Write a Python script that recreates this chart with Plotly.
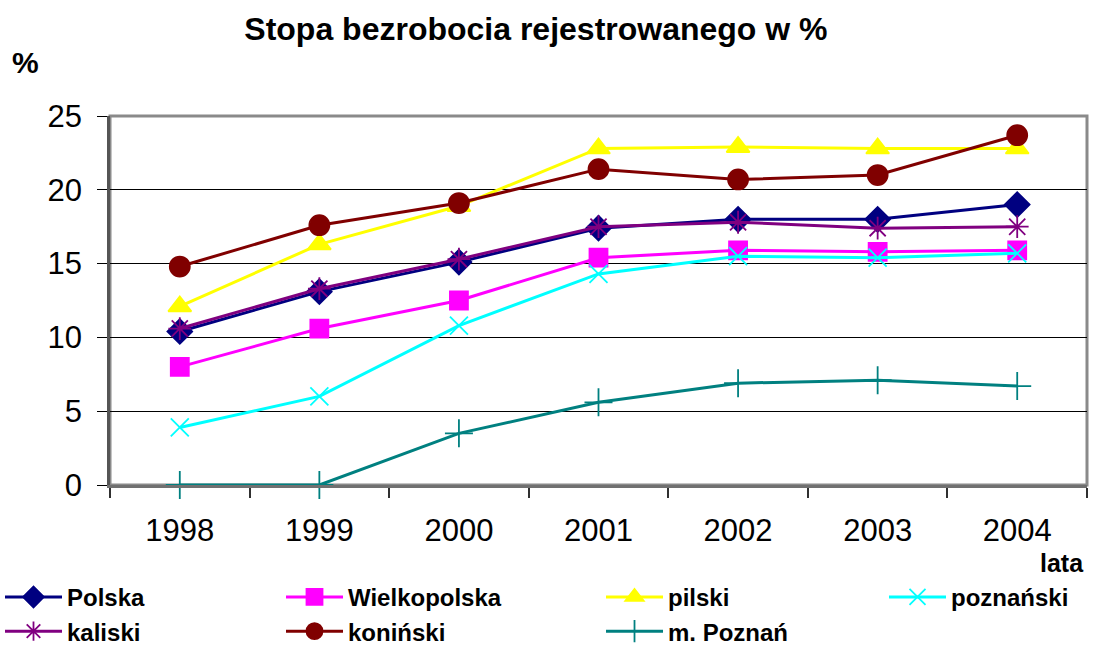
import plotly.graph_objects as go

years = ["1998", "1999", "2000", "2001", "2002", "2003", "2004"]
polska = [10.4, 13.1, 15.1, 17.4, 18.0, 18.0, 19.0]
wielkopolska = [8.0, 10.6, 12.5, 15.4, 15.9, 15.8, 15.9]
pilski = [12.1, 16.3, 18.9, 22.8, 22.9, 22.8, 22.8]
poznanski = [3.9, 6.0, 10.8, 14.3, 15.5, 15.4, 15.7]
kaliski = [10.6, 13.3, 15.3, 17.5, 17.8, 17.4, 17.5]
koninski = [14.8, 17.6, 19.1, 21.4, 20.7, 21.0, 23.7]
m_poznan = [0.0, 0.0, 3.5, 5.6, 6.9, 7.1, 6.7]

series = [
    ("Polska", polska, "#000080", "diamond", 19, "legend"),
    ("Wielkopolska", wielkopolska, "#FF00FF", "square", 18, "legend2"),
    ("pilski", pilski, "#FFFF00", "triangle-up", 20, "legend3"),
    ("poznański", poznanski, "#00FFFF", "x-thin-open", 18, "legend4"),
    ("kaliski", kaliski, "#800080", "asterisk-open", 19, "legend"),
    ("koniński", koninski, "#800000", "circle", 20, "legend2"),
    ("m. Poznań", m_poznan, "#008080", "cross-thin-open", 20, "legend3"),
]

FONT = "Liberation Sans, Arial, sans-serif"
L, R, T, B = 110, 1087, 116, 485  # plot area in pixels
PW, PH = R - L, B - T

fig = go.Figure()
for name, vals, color, sym, size, leg in series:
    fig.add_trace(go.Scatter(
        x=years, y=vals, name=name, mode="lines+markers", legend=leg,
        line=dict(color=color, width=3),
        marker=dict(symbol=sym, size=size, color=color,
                    line=dict(color=color, width=1.8)),
        cliponaxis=False,
    ))

leg_common = dict(orientation="v", xref="container", yref="container",
                  xanchor="left", yanchor="top", y=0.1115,
                  itemwidth=57, bgcolor="rgba(0,0,0,0)", borderwidth=0,
                  font=dict(size=24, family=FONT, weight="bold", color="black"))

fig.update_layout(
    width=1105, height=647,
    paper_bgcolor="white", plot_bgcolor="white",
    margin=dict(l=L, r=1105 - R, t=T, b=647 - B, autoexpand=False),
    font=dict(family=FONT, color="black"),
    title=dict(text="Stopa bezrobocia rejestrowanego w %",
               xref="container", yref="container",
               x=0.485, xanchor="center", y=1 - 29 / 647, yanchor="middle",
               font=dict(size=32, weight="bold")),
    showlegend=True,
    legend=dict(leg_common, x=0.0),
    legend2=dict(leg_common, x=0.2543),
    legend3=dict(leg_common, x=0.5439),
    legend4=dict(leg_common, x=0.80),
    xaxis=dict(type="category", range=[-0.5, 6.5], tickson="boundaries",
               ticks="outside", ticklen=10,
               tickcolor="#303030", tickwidth=1.5,
               showline=True, linecolor="#707070", linewidth=2.5,
               showgrid=False, tickfont=dict(size=31), ticklabelstandoff=16),
    yaxis=dict(range=[0, 25], dtick=5, ticks="outside", ticklen=10,
               tickcolor="black", tickwidth=1.2, showline=True, linecolor="#555555",
               linewidth=2.5, showgrid=True, gridcolor="black", gridwidth=1,
               tickfont=dict(size=31), zeroline=False, ticklabelstandoff=9),
    annotations=[
        dict(text="%", xref="paper", yref="paper", x=(25 - L) / PW, y=(B - 62) / PH,
             xanchor="center", yanchor="middle", showarrow=False,
             font=dict(size=30, weight="bold")),
        dict(text="lata", xref="paper", yref="paper", x=(1086 - L) / PW,
             y=(B - 563) / PH, xanchor="right", yanchor="middle", showarrow=False,
             font=dict(size=25, weight="bold")),
    ],
    shapes=[dict(type="rect", xref="paper", yref="paper", x0=0, y0=0, x1=1, y1=1,
                 line=dict(color="#8a8a8a", width=3), layer="below")],
)

fig.write_html("out.html", config={"displayModeBar": False},
               post_script="document.body.style.margin='0';document.body.style.overflow='hidden';")
